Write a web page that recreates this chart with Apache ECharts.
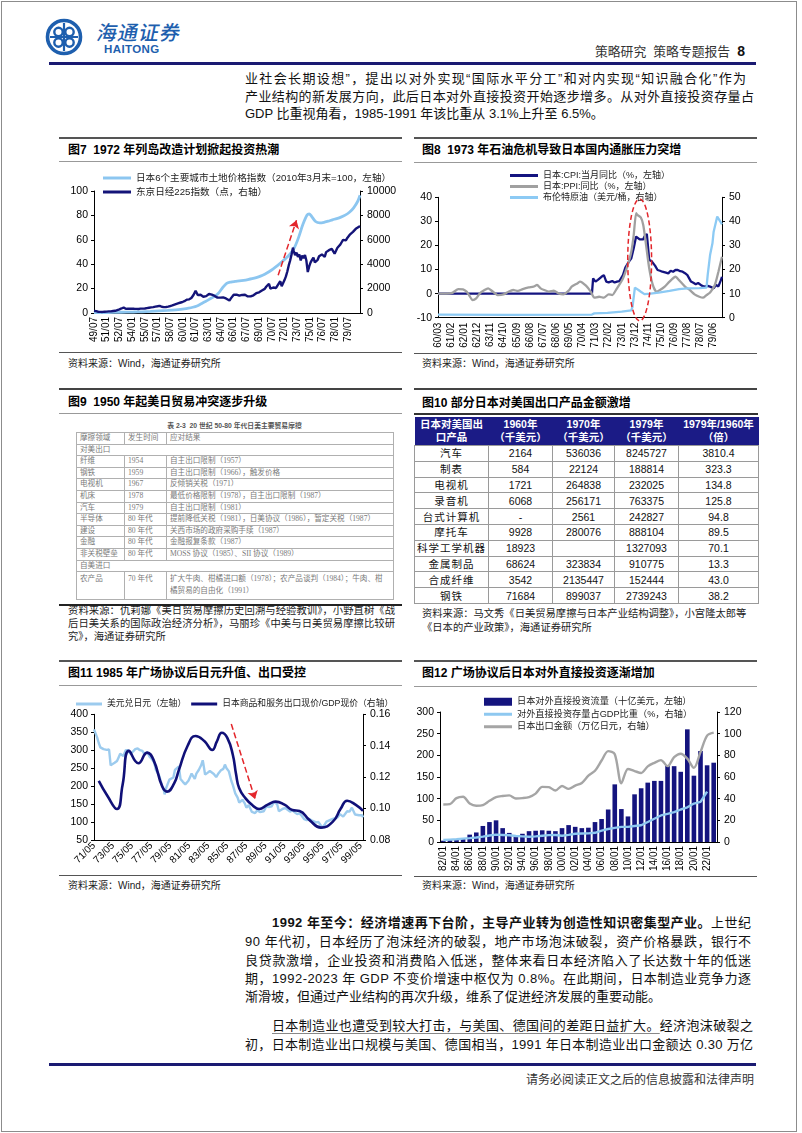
<!DOCTYPE html>
<html><head><meta charset="utf-8">
<script src="https://cdn.jsdelivr.net/npm/echarts@6/dist/echarts.min.js"></script>
<style>
html,body{margin:0;padding:0;background:#fff;}
#page{position:relative;width:802px;height:1133px;overflow:hidden;background:#fff;font-family:"Liberation Sans",Arial,"Noto Sans CJK SC",sans-serif;color:#111;}
.a{position:absolute;}
.ln{position:absolute;white-space:nowrap;line-height:17px;height:17px;font-size:13px;color:#111;}
.ttl{position:absolute;white-space:nowrap;font-size:12px;font-weight:bold;line-height:14px;color:#000;}
.src{position:absolute;white-space:nowrap;font-size:10px;line-height:13px;color:#222;}
.hr{position:absolute;}
.t9{border-collapse:collapse;table-layout:fixed;width:317px;font-size:7.6px;color:#7a7a7a;font-family:"Liberation Serif","Noto Sans CJK SC",serif;}
.t9 td{border:1px solid #b0b0b0;height:10.6px;padding:0 3px;line-height:10.6px;vertical-align:middle;white-space:nowrap;overflow:hidden;}
.t9 tr.dbl td{height:26px;white-space:normal;line-height:12px;vertical-align:top;padding-top:1px;}
.t10{border-collapse:collapse;table-layout:fixed;width:344px;font-family:"Liberation Sans",Arial,"Noto Sans CJK SC",sans-serif;}
.t10 th{background:#1b1b86;color:#fff;font-weight:bold;font-size:10.5px;line-height:13px;height:28px;padding:0;border:none;text-align:center;}
.t10 td{border:1px solid #9a9a9a;height:14.8px;font-size:10.5px;text-align:center;padding:0;color:#111;line-height:14px;}
.t10 td.c1{letter-spacing:1px;font-size:10.5px;}
</style></head>
<body>
<div id="page">
  <div class="a" style="left:1px;top:1px;width:796px;height:1131px;border:1px solid #8c8c8c;box-sizing:border-box;"></div>

  <!-- logo -->
  <svg class="a" style="left:44px;top:17px" width="40" height="40" viewBox="0 0 40 40">
    <circle cx="20" cy="20" r="16.5" fill="none" stroke="#1e5fae" stroke-width="3.6"/>
    <circle cx="14.5" cy="15" r="4.2" fill="none" stroke="#1e5fae" stroke-width="2.4"/>
    <circle cx="25.5" cy="15" r="4.2" fill="none" stroke="#1e5fae" stroke-width="2.4"/>
    <circle cx="14.5" cy="25.5" r="4.2" fill="none" stroke="#1e5fae" stroke-width="2.4"/>
    <circle cx="25.5" cy="25.5" r="4.2" fill="none" stroke="#1e5fae" stroke-width="2.4"/>
    <path d="M20 6 L20 34 M6 20 L34 20" stroke="#1e5fae" stroke-width="2.2"/>
  </svg>
  <div class="a" style="left:95px;top:21px;font-size:20px;line-height:22px;font-weight:500;color:#1e5fae;letter-spacing:1px;font-family:'Noto Sans CJK SC';transform:skewX(-12deg);transform-origin:0 100%;">海通证券</div>
  <div class="a" style="left:104px;top:43px;font-size:11.5px;line-height:12px;font-weight:bold;color:#1e5fae;letter-spacing:0.4px;">HAITONG</div>
  <div class="a" style="right:57px;top:43px;line-height:17px;white-space:nowrap;color:#333;font-size:12.8px;">策略研究&nbsp;&nbsp;策略专题报告&nbsp;&nbsp;<b style="font-size:14px;color:#111;">8</b></div>
  <div class="hr" style="left:49px;top:62px;width:707px;height:3px;background:#1a1a72;"></div>

  <!-- top text -->
  <div class="ln fit" data-w="501" style="left:245px;top:70px;">业社会长期设想”，提出以对外实现“国际水平分工”和对内实现“知识融合化”作为</div>
  <div class="ln fit" data-w="509" style="left:245px;top:88px;">产业结构的新发展方向，此后日本对外直接投资开始逐步增多。从对外直接投资存量占</div>
  <div class="ln" style="left:245px;top:104.5px;">GDP 比重视角看，1985-1991 年该比重从 3.1%上升至 6.5%。</div>

  <!-- Fig 7 frame -->
  <div class="hr" style="left:59px;top:137px;width:343px;height:2px;background:#555;"></div>
  <div class="ttl" style="left:68px;top:143px;">图7&nbsp;&nbsp;1972 年列岛改造计划掀起投资热潮</div>
  <div class="hr" style="left:59px;top:161px;width:343px;height:1px;background:#999;"></div>
  <div id="c7" class="a" style="left:59px;top:163px;width:343px;height:187px;"></div>
  <div class="hr" style="left:59px;top:352px;width:343px;height:1px;background:#555;"></div>
  <div class="src" style="left:68px;top:357px;">资料来源：Wind，海通证券研究所</div>

  <!-- Fig 8 frame -->
  <div class="hr" style="left:414px;top:137px;width:343px;height:2px;background:#555;"></div>
  <div class="ttl" style="left:422px;top:143px;">图8&nbsp;&nbsp;1973 年石油危机导致日本国内通胀压力突增</div>
  <div class="hr" style="left:414px;top:162px;width:343px;height:1px;background:#999;"></div>
  <div id="c8" class="a" style="left:404px;top:163px;width:354px;height:187px;"></div>
  <div class="hr" style="left:414px;top:353px;width:343px;height:1px;background:#555;"></div>
  <div class="src" style="left:422px;top:357px;">资料来源：Wind，海通证券研究所</div>

  <!-- Fig 9 -->
  <div class="hr" style="left:59px;top:388px;width:343px;height:2px;background:#444;"></div>
  <div class="ttl" style="left:68px;top:395px;">图9&nbsp;&nbsp;1950 年起美日贸易冲突逐步升级</div>
  <div class="hr" style="left:59px;top:413px;width:343px;height:1px;background:#999;"></div>
  <div class="a" style="left:76px;top:421px;width:317px;text-align:center;font-size:6.8px;line-height:9px;font-weight:bold;color:#555;white-space:nowrap;">表 2-3&nbsp;&nbsp;20 世纪 50-80 年代日美主要贸易摩擦</div>
  <div id="t9" class="a" style="left:76px;top:432px;"></div>
  <div class="hr" style="left:59px;top:604px;width:343px;height:2px;background:#222;"></div>
  <div class="src fit" data-w="327" style="left:68px;top:604px;font-size:10.3px;">资料来源：仇莉娜《美日贸易摩擦历史回溯与经验教训》，小野直树《战</div>
  <div class="src fit" data-w="327" style="left:68px;top:617px;font-size:10.3px;">后日美关系的国际政治经济分析》，马丽珍《中美与日美贸易摩擦比较研</div>
  <div class="src" style="left:68px;top:630px;font-size:10.3px;">究》，海通证券研究所</div>

  <!-- Fig 10 -->
  <div class="hr" style="left:414px;top:388px;width:343px;height:2px;background:#444;"></div>
  <div class="ttl" style="left:422px;top:396px;">图10 部分日本对美国出口产品金额激增</div>
  <div class="hr" style="left:414px;top:413px;width:344px;height:2px;background:#333;"></div>
  <div id="t10" class="a" style="left:414px;top:417px;"></div>
  <div class="src" style="left:422px;top:607px;font-size:10.3px;">资料来源：马文秀《日美贸易摩擦与日本产业结构调整》，小宫隆太郎等</div>
  <div class="src" style="left:422px;top:621px;font-size:10.3px;">《日本的产业政策》，海通证券研究所</div>

  <!-- Fig 11 -->
  <div class="hr" style="left:59px;top:660px;width:343px;height:2px;background:#555;"></div>
  <div class="ttl" style="left:68px;top:666px;">图11 1985 年广场协议后日元升值、出口受控</div>
  <div class="hr" style="left:59px;top:685px;width:343px;height:1px;background:#999;"></div>
  <div id="c11" class="a" style="left:59px;top:687px;width:343px;height:188px;"></div>
  <div class="hr" style="left:59px;top:875px;width:343px;height:1px;background:#555;"></div>
  <div class="src" style="left:68px;top:879px;">资料来源：Wind，海通证券研究所</div>

  <!-- Fig 12 -->
  <div class="hr" style="left:414px;top:660px;width:343px;height:2px;background:#555;"></div>
  <div class="ttl" style="left:422px;top:666px;">图12 广场协议后日本对外直接投资逐渐增加</div>
  <div class="hr" style="left:414px;top:686px;width:343px;height:1px;background:#999;"></div>
  <div id="c12" class="a" style="left:404px;top:687px;width:354px;height:188px;"></div>
  <div class="hr" style="left:414px;top:876px;width:343px;height:1px;background:#555;"></div>
  <div class="src" style="left:422px;top:879px;">资料来源：Wind，海通证券研究所</div>

  <!-- bottom text -->
  <div class="ln fit" data-w="479" style="left:272px;top:914px;"><b>1992 年至今：经济增速再下台阶，主导产业转为创造性知识密集型产业。</b>上世纪</div>
  <div class="ln fit" data-w="506" style="left:245px;top:933px;">90 年代初，日本经历了泡沫经济的破裂，地产市场泡沫破裂，资产价格暴跌，银行不</div>
  <div class="ln fit" data-w="506" style="left:245px;top:951.5px;">良贷款激增，企业投资和消费陷入低迷，整体来看日本经济陷入了长达数十年的低迷</div>
  <div class="ln fit" data-w="506" style="left:245px;top:969.5px;">期，1992-2023 年 GDP 不变价增速中枢仅为 0.8%。在此期间，日本制造业竞争力逐</div>
  <div class="ln" style="left:245px;top:988px;">渐滑坡，但通过产业结构的再次升级，维系了促进经济发展的重要动能。</div>
  <div class="ln fit" data-w="481" style="left:272px;top:1017px;"><span style="text-decoration:underline;text-decoration-color:#888;text-underline-offset:3px;">日本制造业也遭受到较大打击，与美国、德国间的差距日益扩大。</span>经济泡沫破裂之</div>
  <div class="ln fit" data-w="508" style="left:245px;top:1036px;">初，日本制造业出口规模与美国、德国相当，1991 年日本制造业出口金额达 0.30 万亿</div>

  <div class="hr" style="left:49px;top:1063px;width:707px;height:3px;background:#1a1a72;"></div>
  <div class="a" style="right:48px;top:1072px;font-size:12px;line-height:17px;color:#333;white-space:nowrap;">请务必阅读正文之后的信息披露和法律声明</div>
</div>

<script>
// ================= DATA =================
// Fig 7 (monthly x axis from 1949/07)
const fig7Legend = ['日本6个主要城市土地价格指数（2010年3月末=100，左轴）', '东京日经225指数（点，右轴）'];
const fig7LandPrice = [['1949-07',0.3],['1951-03',0.4],['1952-09',0.6],['1954-03',0.8],['1955-03',1.0],['1956-03',1.3],['1957-03',1.7],['1958-03',2.1],['1959-03',2.6],['1960-03',3.3],['1960-09',3.9],['1961-03',4.7],['1961-09',5.8],['1962-03',7.6],['1962-09',9.4],['1963-03',11.4],['1963-09',13.4],['1964-03',16.0],['1964-09',20.5],['1965-03',24.3],['1965-09',25.4],['1966-03',25.9],['1966-09',26.3],['1967-03',26.8],['1967-09',27.4],['1968-03',28.1],['1968-09',29.0],['1969-03',30.2],['1969-09',31.8],['1970-03',33.8],['1970-09',36.2],['1971-03',38.9],['1971-09',41.8],['1972-03',44.8],['1972-09',48.4],['1973-03',53.5],['1973-09',62.0],['1974-03',72.5],['1974-09',80.3],['1974-12',81.2],['1975-03',79.5],['1975-09',75.0],['1976-03',73.8],['1976-09',74.3],['1977-03',75.3],['1977-09',76.4],['1978-03',77.4],['1978-09',78.6],['1979-03',80.2],['1979-09',82.6],['1980-03',86.2],['1980-09',91.8],['1980-12',96.5]];
const fig7Nikkei225 = [['1949-07',176],['1949-10',150],['1950-01',105],['1950-04',95],['1950-07',88],['1950-10',100],['1951-01',110],['1951-04',130],['1951-07',135],['1951-10',160],['1952-01',180],['1952-04',240],['1952-07',300],['1952-10',370],['1953-01',450],['1953-02',474],['1953-04',340],['1953-07',355],['1953-10',350],['1954-01',360],['1954-04',345],['1954-07',340],['1954-10',330],['1955-01',355],['1955-04',360],['1955-07',365],['1955-10',400],['1956-01',430],['1956-04',460],['1956-07',480],['1956-10',520],['1957-01',550],['1957-04',590],['1957-07',510],['1957-10',480],['1958-01',490],['1958-04',520],['1958-07',570],['1958-10',620],['1959-01',680],['1959-04',740],['1959-07',800],['1959-10',860],['1960-01',920],['1960-04',1000],['1960-07',1100],['1960-10',1120],['1961-01',1230],['1961-04',1480],['1961-07',1829],['1961-08',1700],['1961-10',1470],['1961-12',1420],['1962-02',1500],['1962-04',1420],['1962-06',1330],['1962-08',1290],['1962-10',1380],['1962-12',1420],['1963-02',1560],['1963-04',1634],['1963-06',1500],['1963-08',1440],['1963-10',1400],['1963-12',1300],['1964-02',1260],['1964-04',1330],['1964-06',1260],['1964-08',1240],['1964-10',1280],['1964-12',1210],['1965-02',1190],['1965-04',1150],['1965-07',1020],['1965-09',1200],['1965-11',1360],['1966-01',1500],['1966-03',1550],['1966-05',1500],['1966-07',1460],['1966-09',1420],['1966-11',1460],['1967-01',1480],['1967-03',1450],['1967-05',1500],['1967-07',1430],['1967-09',1360],['1967-11',1300],['1968-01',1360],['1968-03',1300],['1968-05',1450],['1968-07',1560],['1968-09',1620],['1968-11',1720],['1969-01',1700],['1969-03',1780],['1969-05',1850],['1969-07',1800],['1969-09',1980],['1969-11',2150],['1970-01',2280],['1970-03',2400],['1970-04',2534],['1970-05',2000],['1970-07',2040],['1970-09',2090],['1970-11',1950],['1971-01',2050],['1971-03',2250],['1971-05',2350],['1971-07',2600],['1971-08',2740],['1971-09',2200],['1971-11',2350],['1972-01',2700],['1972-03',3000],['1972-05',3400],['1972-07',3900],['1972-09',4300],['1972-11',4800],['1973-01',5359],['1973-02',5100],['1973-04',4750],['1973-06',4950],['1973-08',4600],['1973-10',4800],['1973-12',4300],['1974-02',4700],['1974-04',4500],['1974-06',4750],['1974-08',4300],['1974-10',3355],['1974-12',3820],['1975-02',4150],['1975-04',4350],['1975-06',4550],['1975-08',4150],['1975-10',4300],['1975-12',4360],['1976-02',4650],['1976-04',4550],['1976-06',4800],['1976-08',4700],['1976-10',4600],['1976-12',4990],['1977-02',5000],['1977-04',5150],['1977-06',5050],['1977-08',5250],['1977-10',5200],['1977-12',4860],['1978-02',5100],['1978-04',5350],['1978-06',5500],['1978-08',5600],['1978-10',5800],['1978-12',6000],['1979-02',6100],['1979-04',5950],['1979-06',6150],['1979-08',6300],['1979-10',6450],['1979-12',6570],['1980-02',6650],['1980-04',6800],['1980-06',6900],['1980-08',6850],['1980-10',7050],['1980-12',7120]];
const fig7Arrow = [['1971-04',31],['1973-06',76]];

// Fig 8 (monthly x axis from 1960/03)
const fig8Legend = ['日本:CPI:当月同比（%，左轴）', '日本:PPI:同比（%，左轴）', '布伦特原油（美元/桶，右轴）'];
const fig8CPI = [['1960-03',0],['1970-12',0],['1971-01',6.3],['1971-03',5.0],['1971-05',5.7],['1971-08',7.0],['1971-10',7.7],['1971-12',5.0],['1972-02',4.7],['1972-05',5.2],['1972-07',4.6],['1972-09',5.0],['1972-11',5.2],['1973-02',7.7],['1973-04',10.8],['1973-07',13.3],['1973-09',14.7],['1973-11',18.8],['1974-01',23.7],['1974-02',24.3],['1974-04',22.5],['1974-05',23.0],['1974-07',22.5],['1974-08',23.7],['1974-10',24.8],['1974-11',24.0],['1974-12',14.0],['1975-02',13.5],['1975-03',13.0],['1975-05',11.5],['1975-07',9.8],['1975-09',9.5],['1975-11',9.1],['1976-02',8.7],['1976-04',8.4],['1976-06',9.5],['1976-08',9.1],['1976-10',9.8],['1976-12',9.8],['1977-02',9.3],['1977-04',9.1],['1977-06',8.5],['1977-08',7.7],['1977-09',7.0],['1977-11',5.0],['1978-01',4.5],['1978-03',3.9],['1978-05',4.4],['1978-08',3.3],['1978-10',2.9],['1979-01',3.2],['1979-03',2.9],['1979-06',2.2],['1979-08',3.6],['1979-10',3.0],['1979-12',5.5],['1980-01',7.0]];
const fig8PPI = [['1960-03',0],['1960-10',0],['1961-03',0.3],['1961-08',1.9],['1961-12',1.8],['1962-03',0.8],['1962-05',-0.6],['1962-08',-2.7],['1962-11',-2.0],['1963-02',0.1],['1963-06',1.5],['1963-09',2.2],['1964-01',0.8],['1964-05',-0.6],['1964-10',-0.3],['1965-02',0.8],['1965-06',1.5],['1965-10',1.1],['1966-02',1.9],['1966-07',2.6],['1966-11',2.9],['1967-02',3.6],['1967-05',2.2],['1967-08',1.5],['1967-12',0.8],['1968-04',1.2],['1968-08',0.1],['1968-12',-0.3],['1969-05',1.5],['1969-07',2.9],['1969-12',4.3],['1970-02',5.0],['1970-07',3.3],['1970-11',0.8],['1971-02',-1.7],['1971-06',-1.3],['1971-10',-1.7],['1972-02',-0.3],['1972-05',-0.6],['1972-09',2.2],['1973-02',6.3],['1973-06',11.9],['1973-09',17.4],['1973-11',24.3],['1974-01',33.4],['1974-02',32.7],['1974-05',31.6],['1974-07',28.5],['1974-09',21.6],['1974-12',10.5],['1975-03',3.6],['1975-06',0.8],['1975-09',1.5],['1976-01',2.9],['1976-05',5.0],['1976-10',7.0],['1977-01',5.6],['1977-06',2.9],['1977-10',1.5],['1978-02',-0.3],['1978-06',-1.3],['1978-09',-1.7],['1978-12',-0.6],['1979-03',0.5],['1979-07',3.6],['1979-10',9.1],['1980-01',15.3]];
const fig8Brent = [['1960-03',1.3],['1965-01',1.2],['1970-12',1.3],['1971-02',1.8],['1972-01',2.0],['1973-01',2.5],['1973-09',3.0],['1973-10',4.5],['1973-12',12.5],['1974-01',13.0],['1974-03',11.5],['1974-05',10.8],['1974-08',9.8],['1975-01',10.0],['1975-08',10.4],['1976-05',11.1],['1977-01',11.9],['1977-08',12.2],['1978-06',12.3],['1978-12',12.5],['1979-01',17.7],['1979-03',26.0],['1979-05',30.9],['1979-06',35.7],['1979-07',36.4],['1979-09',42.0],['1979-10',41.3],['1979-12',39.6],['1980-01',38.8]];
const fig8Ellipse = {center:['1974-04',14], halfWidthMonths:10, halfHeight:25.3};

// Fig 11 (monthly x axis from 1971/05)
const fig11Legend = ['美元兑日元（左轴）', '日本商品和服务出口现价/GDP现价（右轴）'];
const fig11USDJPY = [['1971-05',358],['1971-07',357],['1971-09',335],['1971-11',320],['1972-01',308],['1972-05',303],['1972-09',301],['1972-12',302],['1973-02',258],['1973-04',262],['1973-07',265],['1973-10',270],['1973-12',280],['1974-02',290],['1974-06',284],['1974-09',300],['1974-12',300],['1975-03',290],['1975-06',296],['1975-09',303],['1975-12',305],['1976-03',300],['1976-06',298],['1976-09',288],['1976-12',295],['1977-03',282],['1977-06',275],['1977-09',265],['1977-11',245],['1978-01',241],['1978-03',230],['1978-05',225],['1978-07',200],['1978-09',190],['1978-10',177],['1978-12',195],['1979-02',200],['1979-04',218],['1979-06',220],['1979-09',224],['1979-11',245],['1980-01',240],['1980-04',255],['1980-06',220],['1980-09',212],['1980-12',205],['1981-02',205],['1981-04',215],['1981-06',225],['1981-08',235],['1981-10',230],['1981-12',220],['1982-02',235],['1982-05',245],['1982-08',258],['1982-10',272],['1982-11',260],['1983-01',232],['1983-04',237],['1983-07',242],['1983-09',245],['1983-12',234],['1984-03',225],['1984-06',236],['1984-09',244],['1984-12',248],['1985-02',260],['1985-04',250],['1985-07',241],['1985-09',237],['1985-10',215],['1985-12',203],['1986-03',180],['1986-06',168],['1986-08',154],['1986-10',156],['1986-12',162],['1987-03',152],['1987-05',140],['1987-08',147],['1987-10',143],['1987-12',128],['1988-02',130],['1988-04',125],['1988-07',133],['1988-10',128],['1988-12',125],['1989-03',130],['1989-06',143],['1989-08',140],['1989-10',142],['1990-01',144],['1990-04',158],['1990-06',153],['1990-08',148],['1990-10',130],['1990-12',134],['1991-03',137],['1991-06',139],['1991-09',134],['1991-12',129],['1992-03',133],['1992-06',127],['1992-09',122],['1992-12',124],['1993-03',117],['1993-06',108],['1993-09',105],['1993-12',109],['1994-03',105],['1994-06',102],['1994-09',99],['1994-12',100],['1995-03',90],['1995-04',83],['1995-06',85],['1995-08',94],['1995-10',101],['1995-12',102],['1996-03',106],['1996-06',109],['1996-09',111],['1996-12',113],['1997-03',122],['1997-05',119],['1997-07',115],['1997-09',121],['1997-12',130],['1998-03',129],['1998-06',140],['1998-08',145],['1998-10',121],['1998-12',117],['1999-03',119],['1999-05',122],['1999-07',119],['1999-08',113]];
const fig11ExportGDP = [['1971-11',0.1176],['1972-10',0.108],['1973-10',0.0997],['1974-05',0.115],['1975-01',0.1367],['1976-01',0.1288],['1976-12',0.1356],['1977-08',0.131],['1978-07',0.114],['1979-01',0.1108],['1979-10',0.116],['1980-04',0.1246],['1981-03',0.140],['1982-01',0.1462],['1982-12',0.143],['1983-10',0.1373],['1984-04',0.143],['1984-10',0.1483],['1985-05',0.145],['1985-12',0.1341],['1986-04',0.122],['1986-08',0.1129],['1987-04',0.1065],['1988-01',0.102],['1988-09',0.0997],['1989-08',0.1025],['1990-06',0.1044],['1991-05',0.1025],['1992-03',0.0991],['1992-12',0.0985],['1994-01',0.0925],['1995-03',0.0879],['1996-06',0.0917],['1997-04',0.100],['1997-12',0.1050],['1998-11',0.1023],['1999-08',0.0985]];
const fig11Arrow = [['1985-10',373],['1988-04',164]];

// Fig 12 (annual categories)
const fig12Legend = ['日本对外直接投资流量（十亿美元，左轴）', '对外直接投资存量占GDP比重（%，右轴）', '日本出口金额（万亿日元，右轴）'];
const fig12Years = ['82/01','83/01','84/01','85/01','86/01','87/01','88/01','89/01','90/01','91/01','92/01','93/01','94/01','95/01','96/01','97/01','98/01','99/01','00/01','01/01','02/01','03/01','04/01','05/01','06/01','07/01','08/01','09/01','10/01','11/01','12/01','13/01','14/01','15/01','16/01','17/01','18/01','19/01','20/01','21/01','22/01','23/01'];
const fig12FDIFlow = [3,4,6,7,17,22,37,46,50,32,21,15,19,25,26,27,26,25,32,39,35,32,33,46,53,75,133,76,59,110,124,137,141,141,176,175,162,260,153,210,177,183];
const fig12StockToGDP = [1.8,2.2,2.6,3.1,3.6,4.2,5.0,6.0,6.8,6.5,6.2,5.6,5.2,4.8,5.2,5.8,6.3,6.4,5.8,6.6,7.6,7.8,8.0,8.5,10.5,12.0,13.0,14.0,14.0,14.8,15.5,18.5,21.5,24.5,26.0,27.5,30.0,32.0,35.5,37.0,46.5,null];
const fig12Exports = [34.6,35.0,40.5,41.8,35.5,33.4,34.0,38.0,41.5,42.5,43.0,40.2,40.5,41.5,44.7,50.9,50.6,47.5,51.7,49.0,52.1,54.5,61.2,65.7,75.2,83.9,81.0,54.2,67.4,65.5,63.7,69.8,73.1,75.6,70.0,78.3,81.5,76.9,68.4,83.1,98.2,100.9];

// Fig 9 table
const fig9Header = ['摩擦领域', '发生时间', '应对结果'];
const fig9Rows = [
  ['对美出口'],
  ['纤维', '1954', '自主出口限制（1957）'],
  ['钢铁', '1959', '自主出口限制（1966），触发价格'],
  ['电视机', '1967', '反倾销关税（1971）'],
  ['机床', '1978', '最低价格限制（1978），自主出口限制（1987）'],
  ['汽车', '1979', '自主出口限制（1981）'],
  ['半导体', '80 年代', '提前降低关税（1981），日美协议（1986），暂定关税（1987）'],
  ['建设', '80 年代', '关西市场的政府采购手续（1987）'],
  ['金融', '80 年代', '金融报复条款（1987）'],
  ['非关税壁垒', '80 年代', 'MOSS 协议（1985）、SII 协议（1989）'],
  ['自美进口'],
  ['农产品', '70 年代', '扩大牛肉、柑橘进口额（1978）；农产品谈判（1984）；牛肉、柑橘贸易的自由化（1991）']
];

// Fig 10 table
const fig10Header = ['日本对美国出<br>口产品', '1960年<br>（千美元）', '1970年<br>（千美元）', '1979年<br>（千美元）', '1979年/1960年<br>（倍）'];
const fig10Products = ['汽车', '制表', '电视机', '录音机', '台式计算机', '摩托车', '科学工学机器', '金属制品', '合成纤维', '钢铁'];
const fig10Y1960 = ['2164', '584', '1721', '6068', '-', '9928', '18923', '68624', '3542', '71684'];
const fig10Y1970 = ['536036', '22124', '264838', '256171', '2561', '280076', '', '323834', '2135447', '899037'];
const fig10Y1979 = ['8245727', '188814', '232025', '763375', '242827', '888104', '1327093', '910775', '152444', '2739243'];
const fig10Ratio = ['3810.4', '323.3', '134.8', '125.8', '94.8', '89.5', '70.1', '13.3', '43.0', '38.2'];

// ================= HELPERS =================
const FONT = '"Liberation Sans", Arial, "Noto Sans CJK SC", sans-serif';
function mIdx(d, y0, m0) { const p = d.split('-').map(Number); return (p[0] - y0) * 12 + (p[1] - m0); }
function mLab(i, y0, m0) { const t = y0 * 12 + (m0 - 1) + i; const y = Math.floor(t / 12), m = t % 12 + 1; return String(y % 100).padStart(2, '0') + '/' + String(m).padStart(2, '0'); }
function pts(arr, y0, m0) { return arr.map(p => [mIdx(p[0], y0, m0), p[1]]); }
function yAx(pos, min, max, interval, fmt, margin) {
  return { type: 'value', position: pos, min: min, max: max, interval: interval,
    splitLine: { show: false },
    axisLine: { show: true, onZero: false, lineStyle: { color: '#000', width: 1 } },
    axisTick: { show: true, length: 3, lineStyle: { color: '#000' } },
    axisLabel: { color: '#000', fontSize: 10.5, fontFamily: FONT, margin: margin || 6, formatter: fmt || (v => String(v)) } };
}
function xMonthAx(max, step, y0, m0, rotate, margin) {
  return { type: 'value', min: 0, max: max, interval: step,
    splitLine: { show: false },
    axisLine: { show: true, onZero: false, lineStyle: { color: '#000', width: 1 } },
    axisTick: { show: false },
    axisLabel: { color: '#000', fontSize: 10, fontFamily: FONT, rotate: rotate, margin: margin,
      formatter: v => (v % step === 0 ? mLab(v, y0, m0) : '') } };
}
function legendBase(extra) {
  return Object.assign({ itemWidth: 28, itemGap: 0, icon: 'rect',
    textStyle: { fontFamily: FONT, fontSize: 9.2, color: '#222' } }, extra);
}
function arrowLine(a, y0, m0) {
  return { silent: true, animation: false, symbol: ['none', 'arrow'], symbolSize: 8,
    lineStyle: { color: '#e3262b', type: 'dashed', width: 1.5 }, label: { show: false },
    emphasis: { disabled: true },
    data: [[{ coord: [mIdx(a[0][0], y0, m0), a[0][1]] }, { coord: [mIdx(a[1][0], y0, m0), a[1][1]] }]] };
}

// ================= FIG 7 =================
const ch7 = echarts.init(document.getElementById('c7'));
ch7.setOption({
  animation: false,
  grid: { left: 35, right: 42, top: 28, bottom: 37, outerBoundsMode: 'none' },
  legend: legendBase({ orient: 'vertical', left: 39, top: 3, itemHeight: 3, textStyle: { fontFamily: FONT, fontSize: 9.6, color: '#222', lineHeight: 14 },
    data: [{ name: fig7Legend[0], itemStyle: { color: '#8cc6f0' } }, { name: fig7Legend[1], itemStyle: { color: '#141478' } }] }),
  xAxis: xMonthAx(377, 18, 1949, 7, 90, 4),
  yAxis: [yAx('left', 0, 100, 20, null, 6), yAx('right', 0, 10000, 2000, null, 7)],
  series: [
    { name: fig7Legend[0], type: 'line', yAxisIndex: 0, data: pts(fig7LandPrice, 1949, 7), symbol: 'none', smooth: 0.3,
      lineStyle: { color: '#8cc6f0', width: 2.8 }, itemStyle: { color: '#8cc6f0' }, markLine: arrowLine(fig7Arrow, 1949, 7) },
    { name: fig7Legend[1], type: 'line', yAxisIndex: 1, data: pts(fig7Nikkei225, 1949, 7), symbol: 'none',
      lineStyle: { color: '#141478', width: 2.4 }, itemStyle: { color: '#141478' } }
  ]
});

// ================= FIG 8 =================
const ch8 = echarts.init(document.getElementById('c8'));
ch8.setOption({
  animation: false,
  grid: { left: 34, right: 36, top: 34.3, bottom: 32.3, outerBoundsMode: 'none' },
  legend: legendBase({ orient: 'vertical', left: 101, top: 2, itemHeight: 3, textStyle: { fontFamily: FONT, fontSize: 9, color: '#222', lineHeight: 11 },
    data: [{ name: fig8Legend[0], itemStyle: { color: '#141480' } }, { name: fig8Legend[1], itemStyle: { color: '#a0a0a0' } }, { name: fig8Legend[2], itemStyle: { color: '#8ccaf4' } }] }),
  xAxis: xMonthAx(238, 11, 1960, 3, 90, 5),
  yAxis: [yAx('left', -10, 40, 10, null, 6), yAx('right', 0, 50, 10, null, 7)],
  series: [
    { name: fig8Legend[0], type: 'line', yAxisIndex: 0, data: pts(fig8CPI, 1960, 3), symbol: 'none', lineStyle: { color: '#141480', width: 2.3 }, itemStyle: { color: '#141480' } },
    { name: fig8Legend[1], type: 'line', yAxisIndex: 0, data: pts(fig8PPI, 1960, 3), symbol: 'none', smooth: 0.2, lineStyle: { color: '#a0a0a0', width: 2.3 }, itemStyle: { color: '#a0a0a0' } },
    { name: fig8Legend[2], type: 'line', yAxisIndex: 1, data: pts(fig8Brent, 1960, 3), symbol: 'none', lineStyle: { color: '#8ccaf4', width: 2.3 }, itemStyle: { color: '#8ccaf4' } }
  ]
});
(function () {
  const cx = mIdx(fig8Ellipse.center[0], 1960, 3), cy = fig8Ellipse.center[1];
  const c = ch8.convertToPixel({ seriesIndex: 0 }, [cx, cy]);
  const e = ch8.convertToPixel({ seriesIndex: 0 }, [cx + fig8Ellipse.halfWidthMonths, cy + fig8Ellipse.halfHeight]);
  ch8.setOption({ graphic: [{ type: 'ellipse', silent: true, z: 100,
    shape: { cx: c[0], cy: c[1], rx: Math.abs(e[0] - c[0]), ry: Math.abs(e[1] - c[1]) },
    style: { fill: 'none', stroke: '#e3262b', lineWidth: 1.5, lineDash: [5, 3] } }] });
})();

// ================= FIG 11 =================
const ch11 = echarts.init(document.getElementById('c11'));
ch11.setOption({
  animation: false,
  grid: { left: 35, right: 39, top: 27.3, bottom: 35, outerBoundsMode: 'none' },
  legend: legendBase({ orient: 'horizontal', left: 12, top: 6, width: 420, itemWidth: 26, itemHeight: 3, itemGap: 5, textStyle: { fontFamily: FONT, fontSize: 8.8, color: '#222', lineHeight: 12 },
    data: [{ name: fig11Legend[0], itemStyle: { color: '#9ccbee' } }, { name: fig11Legend[1], itemStyle: { color: '#101078' } }] }),
  xAxis: xMonthAx(339, 24, 1971, 5, 45, 4),
  yAxis: [yAx('left', 50, 400, 50, null, 6), yAx('right', 0.08, 0.16, 0.02, v => v.toFixed(2), 7)],
  series: [
    { name: fig11Legend[0], type: 'line', yAxisIndex: 0, data: pts(fig11USDJPY, 1971, 5), symbol: 'none',
      lineStyle: { color: '#9ccbee', width: 2.4 }, itemStyle: { color: '#9ccbee' }, markLine: arrowLine(fig11Arrow, 1971, 5) },
    { name: fig11Legend[1], type: 'line', yAxisIndex: 1, data: pts(fig11ExportGDP, 1971, 5), symbol: 'none', smooth: 0.5,
      lineStyle: { color: '#101078', width: 2.6 }, itemStyle: { color: '#101078' } }
  ]
});

// ================= FIG 12 =================
const ch12 = echarts.init(document.getElementById('c12'));
ch12.setOption({
  animation: false,
  grid: { left: 36, right: 41, top: 25, bottom: 33, outerBoundsMode: 'none' },
  legend: legendBase({ orient: 'vertical', left: 75, top: 3.5, itemHeight: 8, textStyle: { fontFamily: FONT, fontSize: 9.2, color: '#222', lineHeight: 12.5 },
    data: [{ name: fig12Legend[0], icon: 'rect', itemStyle: { color: '#14147e' } },
           { name: fig12Legend[1], icon: 'path://M0,3.5 L28,3.5 L28,6.5 L0,6.5 Z', itemStyle: { color: '#8ec8f0' } },
           { name: fig12Legend[2], icon: 'path://M0,3.5 L28,3.5 L28,6.5 L0,6.5 Z', itemStyle: { color: '#a5a5a5' } }] }),
  xAxis: { type: 'category', data: fig12Years, boundaryGap: true,
    axisLine: { show: true, onZero: false, lineStyle: { color: '#000' } }, axisTick: { show: false },
    axisLabel: { color: '#000', fontSize: 10, fontFamily: FONT, rotate: 90, interval: 1, margin: 4 } },
  yAxis: [yAx('left', 0, 300, 50, null, 6), yAx('right', 0, 120, 20, null, 7)],
  series: [
    { name: fig12Legend[0], type: 'bar', yAxisIndex: 0, data: fig12FDIFlow, barWidth: 4.6, itemStyle: { color: '#14147e' } },
    { name: fig12Legend[1], type: 'line', yAxisIndex: 1, data: fig12StockToGDP, symbol: 'none', lineStyle: { color: '#8ec8f0', width: 2.4 }, itemStyle: { color: '#8ec8f0' } },
    { name: fig12Legend[2], type: 'line', yAxisIndex: 1, data: fig12Exports, symbol: 'none', smooth: 0.3, lineStyle: { color: '#a5a5a5', width: 2.4 }, itemStyle: { color: '#a5a5a5' } }
  ]
});

// ================= TABLES =================
(function () {
  let h = '<table class="t9"><colgroup><col style="width:48px"><col style="width:42px"><col style="width:227px"></colgroup>';
  h += '<tr>' + fig9Header.map(c => '<td>' + c + '</td>').join('') + '</tr>';
  fig9Rows.forEach((r, i) => {
    if (r.length === 1) h += '<tr><td colspan="3">' + r[0] + '</td></tr>';
    else h += '<tr' + (i === fig9Rows.length - 1 ? ' class="dbl"' : '') + '>' + r.map(c => '<td>' + c + '</td>').join('') + '</tr>';
  });
  document.getElementById('t9').innerHTML = h + '</table>';

  let g = '<table class="t10"><colgroup><col style="width:74px"><col style="width:64px"><col style="width:62px"><col style="width:64px"><col style="width:80px"></colgroup>';
  g += '<tr>' + fig10Header.map(c => '<th>' + c + '</th>').join('') + '</tr>';
  fig10Products.forEach((p, i) => {
    g += '<tr><td class="c1">' + p + '</td><td>' + fig10Y1960[i] + '</td><td>' + fig10Y1970[i] + '</td><td>' + fig10Y1979[i] + '</td><td>' + fig10Ratio[i] + '</td></tr>';
  });
  document.getElementById('t10').innerHTML = g + '</table>';
})();

// ================= TEXT JUSTIFY =================
function fitLines() {
  document.querySelectorAll('.fit').forEach(el => {
    el.style.letterSpacing = '0px';
    const w = el.getBoundingClientRect().width;
    const n = Array.from(el.textContent).length;
    const target = parseFloat(el.dataset.w);
    if (n > 1) el.style.letterSpacing = ((target - w) / (n - 1)) + 'px';
  });
}
fitLines();
if (document.fonts && document.fonts.ready) document.fonts.ready.then(fitLines);
</script>
</body></html>
